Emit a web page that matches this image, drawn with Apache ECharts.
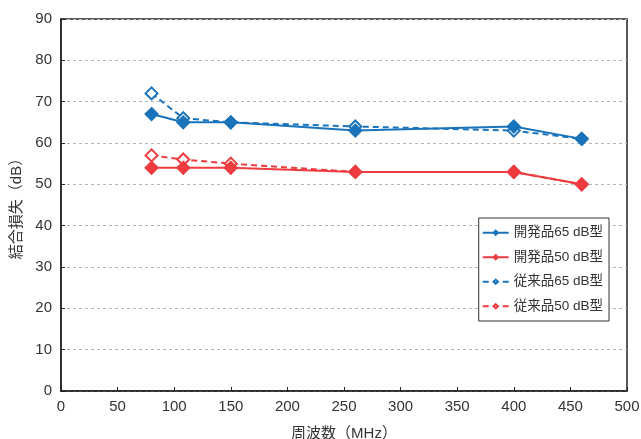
<!DOCTYPE html>
<html><head><meta charset="utf-8">
<script src="https://cdn.jsdelivr.net/npm/echarts@6/dist/echarts.min.js"></script>
<style>html,body{margin:0;padding:0;background:#fff}#c{width:641px;height:439px}</style>
</head><body><div id="c"></div>
<script>
const freq = [80, 108, 150, 260, 400, 460];
const dev65 = [67, 65, 65, 63, 64, 61];
const dev50 = [54, 54, 54, 53, 53, 50];
const old65 = [72, 66, 65, 64, 63, 61];
const old50 = [57, 56, 55, 53, 53, 50];
const names = ['開発品65 dB型', '開発品50 dB型', '従来品65 dB型', '従来品50 dB型'];
const xTicks = [0, 50, 100, 150, 200, 250, 300, 350, 400, 450, 500];
const yTicks = [0, 10, 20, 30, 40, 50, 60, 70, 80, 90];

const BLUE = '#1a74bb', RED = '#ee3b3f';
const FF = 'Liberation Sans, "Noto Sans CJK JP", sans-serif';
const pair = a => freq.map((f, i) => [f, a[i]]);

function ser(name, data, color, dashed, filled) {
  return {
    name, type: 'line', data: pair(data),
    symbol: 'diamond', symbolSize: 12,
    lineStyle: { color, width: 2, type: dashed ? [6, 4] : 'solid' },
    itemStyle: { color: filled ? color : '#fff', borderColor: color, borderWidth: 2 },
    emphasis: { disabled: true }, animation: false, z: filled ? 3 : 2
  };
}

const chart = echarts.init(document.getElementById('c'));
chart.setOption({
  animation: false,
  textStyle: { fontFamily: FF },
  grid: { left: 61, right: 14, top: 19, bottom: 48, show: true, borderColor: '#222', borderWidth: 1.5, containLabel: false, outerBoundsMode: 'none' },
  xAxis: {
    type: 'value', min: xTicks[0], max: xTicks[xTicks.length - 1], interval: 50,
    name: '周波数（MHz）', nameLocation: 'middle', nameGap: 35,
    nameTextStyle: { fontSize: 15, color: '#333', fontFamily: FF },
    axisLine: { lineStyle: { color: '#222', width: 1.5 } },
    axisTick: { inside: true, length: 4, lineStyle: { color: '#222' } },
    axisLabel: { fontSize: 15, color: '#333', margin: 8 },
    splitLine: { show: false }
  },
  yAxis: {
    type: 'value', min: yTicks[0], max: yTicks[yTicks.length - 1], interval: 10,
    name: '結合損失（dB）', nameLocation: 'middle', nameGap: 35, nameRotate: 90,
    nameTextStyle: { fontSize: 15, color: '#333', fontFamily: FF },
    axisLine: { lineStyle: { color: '#222', width: 1.5 } },
    axisTick: { inside: true, length: 4, lineStyle: { color: '#222' } },
    axisLabel: { fontSize: 15, color: '#333', margin: 9 },
    splitLine: { lineStyle: { color: '#b5b5b5', type: [3, 3], width: 1 } }
  },
  legend: {
    orient: 'vertical', right: 32, top: 218,
    backgroundColor: '#fff', borderColor: '#333', borderWidth: 1,
    padding: [8, 6, 8, 3], itemGap: 11, itemWidth: 26, itemHeight: 5,
    textStyle: { fontSize: 13.5, color: '#333', fontFamily: FF },
    data: names
  },
  series: [
    ser(names[2], old65, BLUE, true, false),
    ser(names[3], old50, RED, true, false),
    ser(names[0], dev65, BLUE, false, true),
    ser(names[1], dev50, RED, false, true)
  ]
});
</script></body></html>
